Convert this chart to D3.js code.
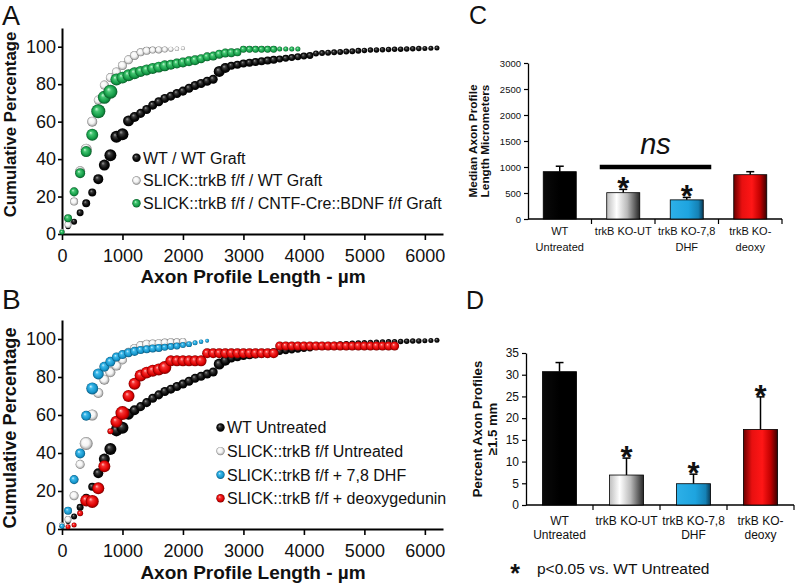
<!DOCTYPE html>
<html><head><meta charset="utf-8">
<script src="https://cdn.jsdelivr.net/npm/d3@7"></script>
<style>
body{margin:0;background:#fff}
svg{display:block}
text{font-family:"Liberation Sans",Arial,Helvetica,sans-serif}
</style>
</head><body>
<svg id="fig" width="797" height="587"></svg>
<script>
// ---------------- DATA ----------------
// cumulative distributions: [axon profile length (µm), cumulative %, bubble size]
const xTicksCum = [0,1000,2000,3000,4000,5000,6000];
const yTicksCum = [0,20,40,60,80,100];

const wtSeries = [[0,1.5,6],[100,3.9,10],[200,6.6,14],[300,11.4,19],[400,16.4,25],[500,22.2,25],[600,29.3,39],[700,36.8,47],[800,42.1,56],[900,51.9,56],[1000,53.3,56],[1100,60.4,47],[1200,62.5,39],[1300,64.4,32],[1400,66.5,32],[1500,68.8,32],[1600,70.6,32],[1700,72.4,32],[1800,73.6,32],[1900,75,32],[2000,76.3,32],[2100,77.8,32],[2200,79.3,32],[2300,80.4,32],[2400,81.6,32],[2500,82.6,32],[2600,86.8,47],[2700,88.6,39],[2800,89.8,25],[2900,90.4,25],[3000,91,25],[3100,91.5,25],[3200,91.8,25],[3300,92.2,25],[3400,92.6,25],[3500,93,25],[3600,93.4,19],[3700,93.8,19],[3800,94.2,19],[3900,94.6,19],[4000,95,19],[4100,95.3,19],[4200,96.4,14],[4300,96.6,14],[4400,96.8,14],[4500,97,14],[4600,97.2,14],[4700,97.4,14],[4800,97.6,14],[4900,97.8,14],[5000,98,12],[5100,98.2,12],[5200,98.3,12],[5300,98.4,12],[5400,98.5,12],[5500,98.6,12],[5600,98.7,12],[5700,98.8,12],[5800,98.9,12],[5900,99,12],[6000,99.1,10],[6100,99.2,10],[6200,99.3,10]];

const slickGraftSeries = [[0,1.5,10],[100,5,19],[200,17.3,25],[300,33.5,39],[400,45.3,47],[500,60,39],[600,71.5,32],[700,79.5,32],[800,83.5,32],[900,86.5,32],[1000,90,32],[1100,93,32],[1200,95.3,32],[1300,97,25],[1400,97.8,25],[1500,98.2,19],[1600,98.3,19],[1700,98.5,14],[1800,98.7,10],[1900,98.9,8],[2000,99.2,6]];

const bdnfGraftSeries = [[0,1,10],[100,8.4,25],[200,22.5,32],[300,32.5,39],[400,44,47],[500,53,56],[600,65.5,77],[700,73,66],[800,76,77],[900,82.5,56],[1000,83.5,56],[1100,84.8,56],[1200,85.8,56],[1300,86.8,47],[1400,87.6,47],[1500,88.4,47],[1600,89.1,47],[1700,89.8,47],[1800,90.4,39],[1900,91,39],[2000,91.6,39],[2100,92.2,39],[2200,92.8,39],[2300,93.6,32],[2400,94.6,32],[2500,95,32],[2600,96,32],[2700,96.6,32],[2800,96.8,32],[2900,97,25],[3000,98.6,19],[3100,98.6,19],[3200,98.6,19],[3300,98.6,19],[3400,98.6,19],[3500,98.6,19],[3600,98.8,10],[3700,98.8,10],[3800,98.8,10],[3900,98.8,10]];

const slickUntreatedSeries = [[0,2,14],[100,5,19],[200,17.5,32],[300,34,32],[400,45,66],[500,60,47],[600,71.6,39],[700,78.6,39],[800,82.5,39],[900,86,39],[1000,89,32],[1100,93,32],[1200,95,32],[1300,96.5,32],[1400,97.2,32],[1500,97.6,25],[1600,97.8,25],[1700,98.1,25],[1800,98.3,25],[1900,98.5,19],[2000,98.7,19]];

const dhfSeries = [[0,1.5,10],[100,9.6,25],[200,26,32],[300,39.8,39],[400,59.6,39],[500,74,56],[600,81.6,47],[700,85.4,39],[800,88,39],[900,90.5,32],[1000,91.8,32],[1100,92.8,32],[1200,93.5,32],[1300,94.2,25],[1400,94.6,25],[1500,95,25],[1600,95.3,25],[1700,95.6,19],[1800,96,19],[1900,96.3,19],[2000,96.8,14],[2100,97.3,14],[2200,98,10],[2300,98.6,8],[2400,99.1,6]];

const deoxySeries = [[100,1.2,10],[200,2.1,10],[300,8.3,14],[400,15,56],[500,14.5,66],[600,21.4,56],[700,33,56],[800,51.5,14],[900,56.5,56],[1000,61,77],[1100,70,56],[1200,76.5,56],[1300,80.8,56],[1400,82.3,56],[1500,83.3,56],[1600,84,56],[1700,85,66],[1800,88.5,47],[1900,88.5,47],[2000,88.5,47],[2100,88.5,47],[2200,88.5,47],[2300,88.5,47],[2400,92.5,39],[2500,92.5,39],[2600,92.5,39],[2700,92.5,39],[2800,92.5,39],[2900,92.5,39],[3000,92.5,39],[3100,92.5,39],[3200,92.5,39],[3300,92.5,39],[3400,92.5,39],[3500,92.5,39],[3600,96.3,32],[3700,96.3,32],[3800,96.3,32],[3900,96.3,32],[4000,96.3,32],[4100,96.3,32],[4200,96.3,32],[4300,96.3,32],[4400,96.3,32],[4500,96.3,32],[4600,96.3,32],[4700,96.3,32],[4800,96.3,32],[4900,96.3,32],[5000,96.3,32],[5100,96.3,32],[5200,96.3,32],[5300,96.3,32],[5400,96.3,32],[5500,96.3,32]];

const legendA = ["WT / WT Graft","SLICK::trkB f/f / WT Graft","SLICK::trkB f/f / CNTF-Cre::BDNF f/f Graft"];
const legendB = ["WT Untreated","SLICK::trkB f/f Untreated","SLICK::trkB f/f + 7,8 DHF","SLICK::trkB f/f + deoxygedunin"];

// bar charts
const barCategories = [["WT","Untreated"],["trkB KO-UT"],["trkB KO-7,8","DHF"],["trkB KO-","deoxy"]];
const medianValues = [910, 506, 368, 852];
const medianErrors = [105, 64, 47, 58];
const medianSignificant = [false, true, true, false];
const medianTicks = [0,500,1000,1500,2000,2500,3000];
const percentValues = [30.7, 6.9, 4.9, 17.4];
const percentErrors = [2.1, 3.9, 2.2, 7.5];
const percentSignificant = [false, true, true, true];
const percentTicks = [0,5,10,15,20,25,30,35];

// ---------------- DRAWING ----------------
const svg = d3.select('#fig');
const defs = svg.append('defs');
const FONT = '"Liberation Sans",Arial,Helvetica,sans-serif';
const fmt = d3.format('d');

const sphereStops = {
  black: [[0,'#a0a0a0'],[0.3,'#3a3a3a'],[0.7,'#0a0a0a'],[1,'#000']],
  grey:  [[0,'#ffffff'],[0.55,'#f4f4f4'],[0.8,'#c4c4c4'],[1,'#767676']],
  green: [[0,'#c8f6d6'],[0.3,'#45c672'],[0.75,'#149b47'],[1,'#0a5a27']],
  blue:  [[0,'#d6f4ff'],[0.3,'#3eb9ea'],[0.75,'#1696cc'],[1,'#0b5b80']],
  red:   [[0,'#ffc0c0'],[0.3,'#f73232'],[0.75,'#dc0000'],[1,'#760000']]
};
Object.entries(sphereStops).forEach(([k,stops])=>{
  const gr = defs.append('radialGradient').attr('id','sph-'+k)
    .attr('cx','50%').attr('cy','50%').attr('r','50%').attr('fx','36%').attr('fy','32%');
  stops.forEach(([o,c])=>gr.append('stop').attr('offset',o).attr('stop-color',c));
});
const barStops = {
  wt:    [[0,'#0a0a0a'],[0.5,'#000'],[1,'#000']],
  ut:    [[0,'#bdbdbd'],[0.3,'#ffffff'],[0.62,'#bababa'],[1,'#262626']],
  dhf:   [[0,'#2db0e8'],[0.55,'#1ea4df'],[0.85,'#1582b6'],[1,'#0a3a55']],
  deoxy: [[0,'#6a0000'],[0.25,'#e81010'],[0.55,'#ff1616'],[0.8,'#c00000'],[1,'#3a0000']]
};
Object.entries(barStops).forEach(([k,stops])=>{
  const gr = defs.append('linearGradient').attr('id','bar-'+k)
    .attr('x1','0%').attr('x2','100%').attr('y1','0%').attr('y2','0%');
  stops.forEach(([o,c])=>gr.append('stop').attr('offset',o).attr('stop-color',c));
});

const rScale = d3.scaleSqrt().domain([0,100]).range([0,8]);

function styleAxis(sel, domainW, tickW, fs){
  sel.select('.domain').attr('stroke','#000').attr('stroke-width',domainW);
  sel.selectAll('.tick line').attr('stroke','#000').attr('stroke-width',tickW);
  sel.selectAll('.tick text').attr('font-family',FONT).attr('font-size',fs).attr('fill','#111');
}

function scatterPanel(cfg){
  const g = svg.append('g');
  const x = d3.scaleLinear().domain([0,6300]).range([62,443]);
  const y = d3.scaleLinear().domain([0,110]).range([cfg.yBottom, cfg.yTop]);

  const ya = g.append('g').attr('transform','translate(62,0)')
    .call(d3.axisLeft(y).tickValues(yTicksCum).tickFormat(fmt).tickSize(4).tickSizeOuter(0).tickPadding(2));
  styleAxis(ya, 2, 1.6, 18);
  const xa = g.append('g').attr('transform',`translate(0,${cfg.yBottom})`)
    .call(d3.axisBottom(x).tickValues(xTicksCum).tickFormat(fmt).tickSize(6).tickSizeOuter(0).tickPadding(4));
  styleAxis(xa, 2, 1.6, 18);
  xa.selectAll('.tick text').attr('dy','1.0em');

  cfg.series.forEach(s=>{
    g.append('g').selectAll('circle').data(s.data).join('circle')
      .attr('cx',d=>x(d[0])).attr('cy',d=>y(d[1])).attr('r',d=>rScale(d[2]))
      .attr('fill',`url(#sph-${s.color})`);
  });

  // legend
  cfg.legend.forEach((t,i)=>{
    const cy = cfg.legY + i*cfg.legStep;
    g.append('circle').attr('cx',cfg.legX).attr('cy',cy).attr('r',4.2)
      .attr('fill',`url(#sph-${cfg.series[i].color})`);
    g.append('text').attr('x',cfg.legX+6.5).attr('y',cy+5.8)
      .attr('font-size',16).attr('fill','#111').text(t);
  });

  g.append('text').attr('x',253).attr('y',cfg.titleY).attr('text-anchor','middle')
    .attr('font-size',19).attr('font-weight','bold').attr('fill','#111').text('Axon Profile Length - µm');
  g.append('text').attr('transform',`translate(15.5,${cfg.yTitleY}) rotate(-90)`)
    .attr('text-anchor','middle').attr('font-size',cfg.yTitleFs).attr('font-weight','bold')
    .attr('fill','#111').text('Cumulative Percentage');
}

scatterPanel({
  yBottom:234, yTop:28, titleY:283, yTitleY:124.5, yTitleFs:16.8,
  series:[{data:wtSeries,color:'black'},{data:slickGraftSeries,color:'grey'},{data:bdnfGraftSeries,color:'green'}],
  legend:legendA, legX:136.5, legY:157.7, legStep:22.8
});
scatterPanel({
  yBottom:529, yTop:320, titleY:579, yTitleY:428, yTitleFs:18.2,
  series:[{data:wtSeries,color:'black'},{data:slickUntreatedSeries,color:'grey'},{data:dhfSeries,color:'blue'},{data:deoxySeries,color:'red'}],
  legend:legendB, legX:220.5, legY:427.5, legStep:23.6
});

function barPanel(cfg){
  const g = svg.append('g');
  const n = barCategories.length;
  const x = d3.scaleBand().domain(d3.range(n)).range([cfg.x0,cfg.x1]).paddingInner(cfg.pad).paddingOuter(cfg.pad/2);
  const y = d3.scaleLinear().domain([0,cfg.max]).range([cfg.yBottom,cfg.yTop]);
  const ya = g.append('g').attr('transform',`translate(${cfg.x0},0)`)
    .call(d3.axisLeft(y).tickValues(cfg.ticks).tickFormat(fmt).tickSize(4).tickSizeOuter(0).tickPadding(3));
  styleAxis(ya, 1.3, 1.2, cfg.tickFs);
  // x axis line and category boundary ticks
  g.append('line').attr('x1',cfg.x0).attr('x2',cfg.x1).attr('y1',cfg.yBottom).attr('y2',cfg.yBottom)
    .attr('stroke','#000').attr('stroke-width',1.3);
  d3.range(1,n+1).forEach(i=>{
    const bx = cfg.x0 + i*x.step();
    g.append('line').attr('x1',bx).attr('x2',bx).attr('y1',cfg.yBottom).attr('y2',cfg.yBottom+5)
      .attr('stroke','#000').attr('stroke-width',1.2);
  });
  const fills = ['wt','ut','dhf','deoxy'];
  cfg.values.forEach((v,i)=>{
    const bx = x(i), bw = x.bandwidth(), cx = bx+bw/2;
    const top = y(v+cfg.errors[i]);
    g.append('line').attr('x1',cx).attr('x2',cx).attr('y1',y(v)).attr('y2',top)
      .attr('stroke','#000').attr('stroke-width',1.5);
    g.append('line').attr('x1',cx-4).attr('x2',cx+4).attr('y1',top).attr('y2',top)
      .attr('stroke','#000').attr('stroke-width',1.5);
    g.append('rect').attr('x',bx).attr('y',y(v)).attr('width',bw).attr('height',y(0)-y(v))
      .attr('fill',`url(#bar-${fills[i]})`).attr('stroke','#000').attr('stroke-width',0.8);
    if(cfg.sig[i]){
      g.append('text').attr('x',cx).attr('y',top+10).attr('text-anchor','middle')
        .attr('font-size',31).attr('font-weight','bold').attr('fill','#111').text('*');
    }
    barCategories[i].forEach((line,j)=>{
      g.append('text').attr('x',cx).attr('y',cfg.labY+j*cfg.labStep).attr('text-anchor','middle')
        .attr('font-size',cfg.labFs).attr('fill','#111').text(line);
    });
  });
  const tg = g.append('g').attr('transform',`translate(${cfg.titleX},${(cfg.yTop+cfg.yBottom)/2}) rotate(-90)`);
  cfg.title.forEach((t,j)=>{
    tg.append('text').attr('x',0).attr('y',j*cfg.titleStep).attr('text-anchor','middle')
      .attr('font-size',cfg.titleFs).attr('font-weight','bold').attr('fill','#111').text(t);
  });
  return {x,y,g};
}

const C = barPanel({
  x0:528, x1:782, yBottom:219, yTop:63, max:3000, ticks:medianTicks, tickFs:9.5, pad:0.48,
  values:medianValues, errors:medianErrors, sig:medianSignificant,
  labY:235, labStep:15.5, labFs:11,
  title:['Median Axon Profile','Length Micrometers'], titleX:477, titleStep:12, titleFs:11.8
});
// "ns" bracket between trkB KO-UT and trkB KO-7,8 DHF
{
  const xl = C.x(1)-7, xr = C.x(2)+C.x.bandwidth()+8, yl = C.y(1000);
  C.g.append('line').attr('x1',xl).attr('x2',xr).attr('y1',yl).attr('y2',yl)
    .attr('stroke','#000').attr('stroke-width',4.5);
  C.g.append('text').attr('x',(xl+xr)/2).attr('y',yl-13).attr('text-anchor','middle')
    .attr('font-size',29).attr('font-style','italic').attr('fill','#111').text('ns');
}

barPanel({
  x0:526, x1:794, yBottom:505, yTop:353, max:35, ticks:percentTicks, tickFs:12, pad:0.49,
  values:percentValues, errors:percentErrors, sig:percentSignificant,
  labY:525, labStep:13.5, labFs:12,
  title:['Percent Axon Profiles','≥1.5 mm'], titleX:482, titleStep:15, titleFs:13.2
});

// footnote
svg.append('text').attr('x',515).attr('y',581.5).attr('text-anchor','middle')
  .attr('font-size',25).attr('font-weight','bold').attr('fill','#111').text('*');
svg.append('text').attr('x',537).attr('y',574).attr('font-size',15.5).attr('fill','#111')
  .text('p<0.05 vs. WT Untreated');

// panel letters
[['A',2,25,27],['B',2,309,28],['C',469,24,25],['D',466,309,25]].forEach(([t,x,y,fs])=>{
  svg.append('text').attr('x',x).attr('y',y).attr('font-size',fs).attr('fill','#111').text(t);
});
</script>
</body></html>
